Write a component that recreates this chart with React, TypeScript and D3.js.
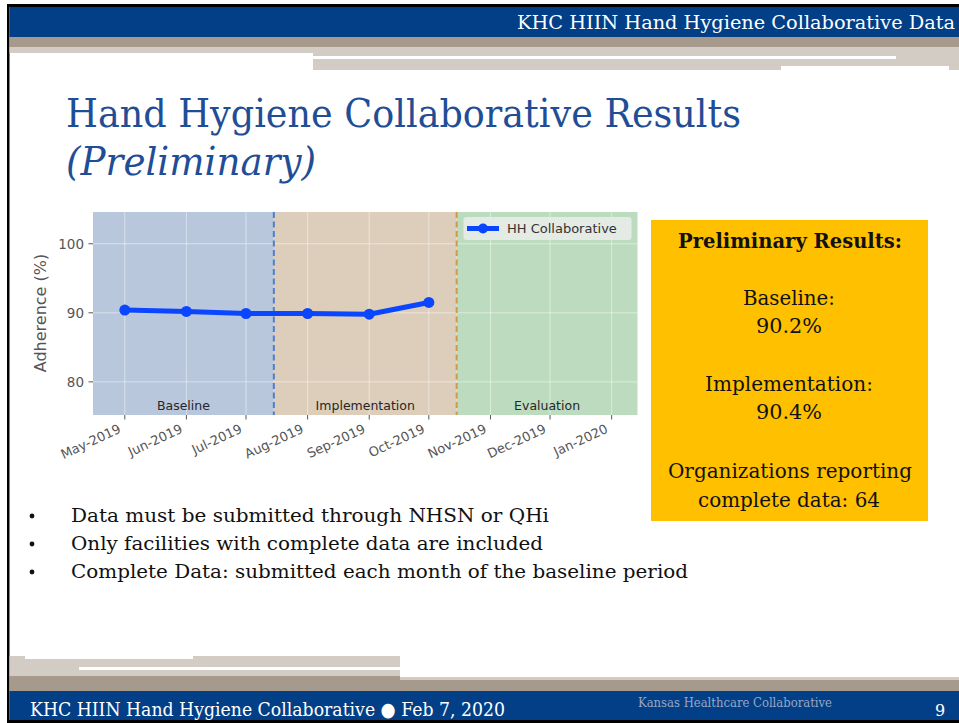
import React from "react";
import * as d3 from "d3";

// ---- data ----
const pointDates = ["2019-05-01", "2019-06-01", "2019-07-01", "2019-08-01", "2019-09-01", "2019-10-01"];
const adherence = [90.4, 90.2, 89.9, 89.9, 89.8, 91.5];
const tickDates = ["2019-05-01", "2019-06-01", "2019-07-01", "2019-08-01", "2019-09-01", "2019-10-01", "2019-11-01", "2019-12-01", "2020-01-01"];
const tickLabels = ["May-2019", "Jun-2019", "Jul-2019", "Aug-2019", "Sep-2019", "Oct-2019", "Nov-2019", "Dec-2019", "Jan-2020"];
const yTicks = [80, 90, 100];
const phaseNames = ["Baseline", "Implementation", "Evaluation"];
const phaseBounds = ["2019-04-15", "2019-07-15", "2019-10-15", "2020-01-14"];
const phaseColors = ["#b9c7dc", "#dccebb", "#bddcbf"];
const dividerColors = ["#4c7fd2", "#d09a4a"];
const seriesName = "HH Collaborative";
const bullets = [
  "Data must be submitted through NHSN or QHi",
  "Only facilities with complete data are included",
  "Complete Data: submitted each month of the baseline period",
];

const parse = d3.timeParse("%Y-%m-%d");

export default function App() {
  const x = d3.scaleTime()
    .domain([parse(phaseBounds[0])!, parse(phaseBounds[3])!])
    .range([93, 637.5]);
  const y = d3.scaleLinear().domain([75.2, 104.6]).range([415, 212]);
  const pts = pointDates.map((d, i) => ({ d: parse(d)!, v: adherence[i] }));
  const line = d3.line<{ d: Date; v: number }>().x(p => x(p.d)).y(p => y(p.v));
  const chartFont = "DejaVu Sans, sans-serif";
  const serif = "DejaVu Serif, serif";
  const blue = "#023f87";
  const tan = "#a59a8c";
  const beige = "#d3ccc4";

  return (
    <svg width={959} height={723} style={{ position: "absolute", left: 0, top: 0 }}>
      {/* frame */}
      <rect x={0} y={0} width={959} height={723} fill="#fff" />
      <rect x={7} y={4} width={952} height={719} fill="#000" />
      <rect x={9.5} y={7} width={949.5} height={713} fill="#fff" />
      {/* header */}
      <rect x={9.5} y={7} width={949.5} height={30} fill={blue} />
      <text x={955} y={29} fill="#fff" fontFamily={serif} fontSize={19} textAnchor="end"
        textLength={438} lengthAdjust="spacingAndGlyphs">KHC HIIN Hand Hygiene Collaborative Data</text>
      <rect x={9.5} y={37} width={949.5} height={10} fill={tan} />
      <rect x={9.5} y={47} width={303.5} height={6} fill={beige} />
      <rect x={313} y={47} width={646} height={23} fill={beige} />
      <rect x={313} y={56} width={583} height={3} fill="#fff" />
      <rect x={781} y={66} width={168} height={4} fill="#fff" />

      {/* title */}
      <text x={66} y={127} fill="#1f4e96" fontFamily={serif} fontSize={40}
        textLength={675} lengthAdjust="spacingAndGlyphs">Hand Hygiene Collaborative Results</text>
      <text x={66} y={175} fill="#1f4e96" fontFamily={serif} fontSize={40} fontStyle="italic"
        textLength={250} lengthAdjust="spacingAndGlyphs">(Preliminary)</text>

      {/* chart phases */}
      {phaseNames.map((n, i) => {
        const x0 = x(parse(phaseBounds[i])!);
        const x1 = x(parse(phaseBounds[i + 1])!);
        return <rect key={n} x={x0} y={212} width={x1 - x0} height={203} fill={phaseColors[i]} />;
      })}
      {/* grid */}
      {tickDates.map(t => (
        <line key={t} x1={x(parse(t)!)} x2={x(parse(t)!)} y1={212} y2={415} stroke="#fff" strokeOpacity={0.45} strokeWidth={1} />
      ))}
      {yTicks.map(t => (
        <line key={t} x1={93} x2={637.5} y1={y(t)} y2={y(t)} stroke="#fff" strokeOpacity={0.45} strokeWidth={1} />
      ))}
      {/* dividers */}
      {[1, 2].map(i => (
        <line key={i} x1={x(parse(phaseBounds[i])!)} x2={x(parse(phaseBounds[i])!)} y1={212} y2={415}
          stroke={dividerColors[i - 1]} strokeWidth={2} strokeDasharray="6,3.5" />
      ))}
      {/* phase labels */}
      {phaseNames.map((n, i) => {
        const x0 = x(parse(phaseBounds[i])!);
        const x1 = x(parse(phaseBounds[i + 1])!);
        return <text key={n} x={(x0 + x1) / 2} y={410} textAnchor="middle" fontFamily={chartFont} fontSize={12.5} fill="#262626">{n}</text>;
      })}
      {/* series */}
      <path d={line(pts)!} fill="none" stroke="#0a45ff" strokeWidth={5} strokeLinejoin="round" />
      {pts.map((p, i) => <circle key={i} cx={x(p.d)} cy={y(p.v)} r={5.5} fill="#0a45ff" />)}

      {/* y axis */}
      {yTicks.map(t => (
        <g key={t}>
          <line x1={88.5} x2={93} y1={y(t)} y2={y(t)} stroke="#555" strokeWidth={1} />
          <text x={84} y={y(t) + 5} textAnchor="end" fontFamily={chartFont} fontSize={13.5} fill="#555">{t}</text>
        </g>
      ))}
      <text transform="translate(46,313) rotate(-90)" textAnchor="middle" fontFamily={chartFont} fontSize={16} fill="#555">Adherence (%)</text>
      {/* x axis */}
      {tickDates.map((t, i) => {
        const xx = x(parse(t)!);
        return (
          <g key={t}>
            <line x1={xx} x2={xx} y1={415} y2={419.5} stroke="#555" strokeWidth={1} />
            <text transform={`translate(${xx - 3},${432}) rotate(-25)`} textAnchor="end" fontFamily={chartFont} fontSize={13} fill="#555">{tickLabels[i]}</text>
          </g>
        );
      })}
      {/* legend */}
      <rect x={463.5} y={217} width={168} height={23} rx={3} fill="#e8ebe8" fillOpacity={0.9} />
      <line x1={467} x2={499} y1={228.5} y2={228.5} stroke="#0a45ff" strokeWidth={5} />
      <circle cx={483} cy={228.5} r={5} fill="#0a45ff" />
      <text x={507} y={233} fontFamily={chartFont} fontSize={13} fill="#333">{seriesName}</text>

      {/* results box */}
      <rect x={651} y={220} width={277} height={301} fill="#ffc000" />
      <g fontFamily={serif} fill="#111" textAnchor="middle" fontSize={20}>
        <text x={790} y={248} fontWeight="bold" textLength={224} lengthAdjust="spacingAndGlyphs">Preliminary Results:</text>
        <text x={789} y={305} textLength={92} lengthAdjust="spacingAndGlyphs">Baseline:</text>
        <text x={789} y={333} textLength={66} lengthAdjust="spacingAndGlyphs">90.2%</text>
        <text x={789} y={391} textLength={168} lengthAdjust="spacingAndGlyphs">Implementation:</text>
        <text x={789} y={419} textLength={66} lengthAdjust="spacingAndGlyphs">90.4%</text>
        <text x={790} y={478} textLength={244} lengthAdjust="spacingAndGlyphs">Organizations reporting</text>
        <text x={789} y={507} textLength={182} lengthAdjust="spacingAndGlyphs">complete data: 64</text>
      </g>

      {/* bullets */}
      {bullets.map((b, i) => {
        const widths = [478, 472, 617];
        const yy = 522 + i * 28;
        return (
          <g key={b}>
            <circle cx={32} cy={yy - 6} r={2.4} fill="#111" />
            <text x={71} y={yy} fontFamily={serif} fontSize={19} fill="#111" textLength={widths[i]} lengthAdjust="spacingAndGlyphs">{b}</text>
          </g>
        );
      })}

      {/* footer */}
      <rect x={9.5} y={656} width={390.5} height={20} fill={beige} />
      <rect x={25} y={656} width={168} height={3} fill="#fff" />
      <rect x={79} y={667} width={321} height={3} fill="#fff" />
      <rect x={400} y={677} width={559} height={3} fill={beige} />
      <rect x={9.5} y={676} width={390.5} height={15} fill={tan} />
      <rect x={400} y={680} width={559} height={11} fill={tan} />
      <rect x={9.5} y={691} width={949.5} height={29} fill={blue} />
      <text x={30} y={716} fill="#fff" fontFamily={serif} fontSize={19} textLength={475} lengthAdjust="spacingAndGlyphs">KHC HIIN Hand Hygiene Collaborative ● Feb 7, 2020</text>
      <text x={638} y={707} fill="#9aa6c2" fontFamily={serif} fontSize={12} textLength={194} lengthAdjust="spacingAndGlyphs">Kansas Healthcare Collaborative</text>
      <text x={935} y={716} fill="#fff" fontFamily={serif} fontSize={16}>9</text>
    </svg>
  );
}
